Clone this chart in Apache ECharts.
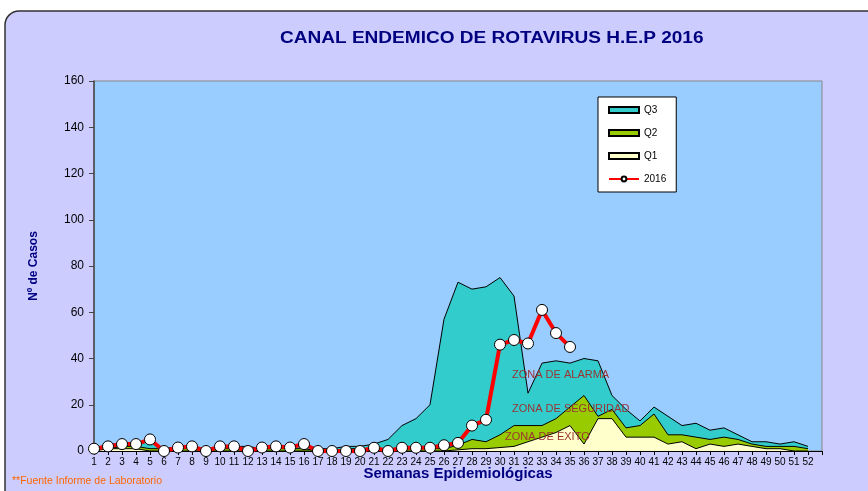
<!DOCTYPE html>
<html>
<head>
<meta charset="utf-8">
<script src="https://cdn.jsdelivr.net/npm/echarts@6/dist/echarts.min.js"></script>
<style>
html, body { margin: 0; padding: 0; background: #fff; }
#main { width: 868px; height: 491px; }
</style>
</head>
<body>
<div id="main"></div>
<script>
// semanas epidemiologicas 1..52 (la ultima vacia es el borde del grafico)
var semanas = [];
for (var i = 1; i <= 52; i++) semanas.push(String(i));
semanas.push('');

var q3 = [1, 3, 3, 3, 4, 1, 2, 2, 1, 2, 2, 2, 1, 1, 2, 3, 1, 1, 2, 2,
          3, 5, 11, 14, 20, 57, 73, 70, 71, 75, 67, 25, 38, 39, 38, 40, 39, 24, 18, 13,
          19, 15, 11, 12, 9, 10, 7, 4, 4, 3, 4, 2];
var q2 = [1, 1, 2, 2, 1, 1, 1, 1, 1, 1, 1, 1, 1, 1, 1, 1, 0, 0, 1, 1,
          1, 1, 1, 1, 1, 1, 2.5, 5, 4, 7, 11, 11, 11, 14, 19, 24, 15, 18, 10, 11,
          16, 7, 7, 6, 5, 6, 5, 3, 2, 2, 2, 1];
var q1 = [0, 1, 1, 1, 0, 0, 0, 0, 0, 0, 0, 0, 0, 0, 0, 0, 0, 0, 0, 0,
          0, 0, 0, 0, 0, 0, 0.5, 1, 1, 1.5, 2, 4, 6, 8, 11, 3, 14, 14, 6, 6,
          6, 3, 4, 1, 3, 2, 3, 2, 1, 1, 0, 0];
var casos2016 = [1, 2, 3, 3, 5, 0, 1.5, 2, 0, 2, 2, 0, 1.5, 2, 1.5, 3, 0, 0, 0, 0,
                 1.4, 0, 1.4, 1.4, 1.4, 2.5, 3.5, 11, 13.5, 46, 48, 46.5, 61, 51, 45];

var fuente = "'Liberation Sans', Arial, sans-serif";

function area(name, data, color) {
    return {
        name: name,
        type: 'line',
        data: data,
        symbol: 'none',
        lineStyle: {color: '#000', width: 1},
        itemStyle: {color: color, borderColor: '#000', borderWidth: 1},
        areaStyle: {color: color, opacity: 1},
        silent: true
    };
}

var myChart = echarts.init(document.getElementById('main'));
var option = {
    animation: false,
    backgroundColor: '#fff',
    textStyle: {fontFamily: fuente},
    legend: {
        orient: 'vertical',
        left: 598,
        top: 97,
        padding: [8, 10, 8, 10],
        itemGap: 13,
        itemWidth: 30,
        itemHeight: 6,
        backgroundColor: '#fff',
        borderColor: '#000',
        borderWidth: 1,
        textStyle: {fontSize: 10, color: '#000', fontFamily: fuente},
        data: [
            {name: 'Q3', icon: 'rect'},
            {name: 'Q2', icon: 'rect'},
            {name: 'Q1', icon: 'rect'},
            {name: '2016'}
        ]
    },
    grid: {
        left: 94, top: 81, right: 46, bottom: 40,
        show: true,
        backgroundColor: '#99ccff',
        borderColor: '#888',
        borderWidth: 1
    },
    xAxis: {
        type: 'category',
        data: semanas,
        boundaryGap: false,
        name: 'Semanas Epidemiológicas',
        nameLocation: 'middle',
        nameGap: 15,
        nameMoveOverlap: false,
        nameTextStyle: {fontSize: 15, fontWeight: 'bold', color: '#000080', fontFamily: fuente},
        axisLine: {lineStyle: {color: '#000', width: 1}},
        axisTick: {show: true, interval: 0, length: 4, lineStyle: {color: '#000'}},
        axisLabel: {interval: 0, fontSize: 10, color: '#000', margin: 6, fontFamily: fuente},
        splitLine: {show: false}
    },
    yAxis: {
        type: 'value',
        min: 0,
        max: 160,
        interval: 20,
        name: 'Nº de Casos',
        nameLocation: 'middle',
        nameRotate: 90,
        nameGap: 54,
        nameTextStyle: {fontSize: 12, fontWeight: 'bold', color: '#000080', fontFamily: fuente},
        axisLine: {show: true, lineStyle: {color: '#444', width: 1.5}},
        axisTick: {show: true, length: 5, lineStyle: {color: '#444'}},
        axisLabel: {fontSize: 12, color: '#000', margin: 10, fontFamily: fuente},
        splitLine: {show: false}
    },
    series: [
        area('Q3', q3, '#33cccc'),
        area('Q2', q2, '#99cc00'),
        area('Q1', q1, '#ffffcc'),
        {
            name: '2016',
            type: 'line',
            data: casos2016,
            symbol: 'circle',
            symbolSize: 11,
            lineStyle: {color: '#ff0000', width: 4},
            itemStyle: {color: '#fff', borderColor: '#000', borderWidth: 1},
            z: 5
        }
    ],
    graphic: [
        {
            type: 'rect',
            z: -10,
            shape: {x: 5, y: 11, width: 900, height: 520, r: 14},
            style: {fill: '#ccccff', stroke: '#333', lineWidth: 1.5}
        },
        {
            type: 'text', x: 280, y: 31, scaleX: 1.19, z: 10,
            style: {text: 'CANAL ENDEMICO DE ROTAVIRUS H.E.P 2016', fill: '#000080',
                    fontSize: 16, fontWeight: 'bold', fontFamily: fuente}
        },
        {
            type: 'text', left: 512, top: 369, z: 10,
            style: {text: 'ZONA DE ALARMA', fill: '#993333', fontSize: 11, fontFamily: fuente}
        },
        {
            type: 'text', left: 512, top: 403, z: 10,
            style: {text: 'ZONA DE SEGURIDAD', fill: '#993333', fontSize: 11, fontFamily: fuente}
        },
        {
            type: 'text', left: 505, top: 431, z: 10,
            style: {text: 'ZONA DE EXITO', fill: '#993333', fontSize: 11, fontFamily: fuente}
        },
        {
            type: 'text', left: 12, top: 476, z: 10,
            style: {text: '**Fuente Informe de Laboratorio', fill: '#ff6600', fontSize: 10.5, fontFamily: fuente}
        }
    ]
};
myChart.setOption(option);
</script>
</body>
</html>
